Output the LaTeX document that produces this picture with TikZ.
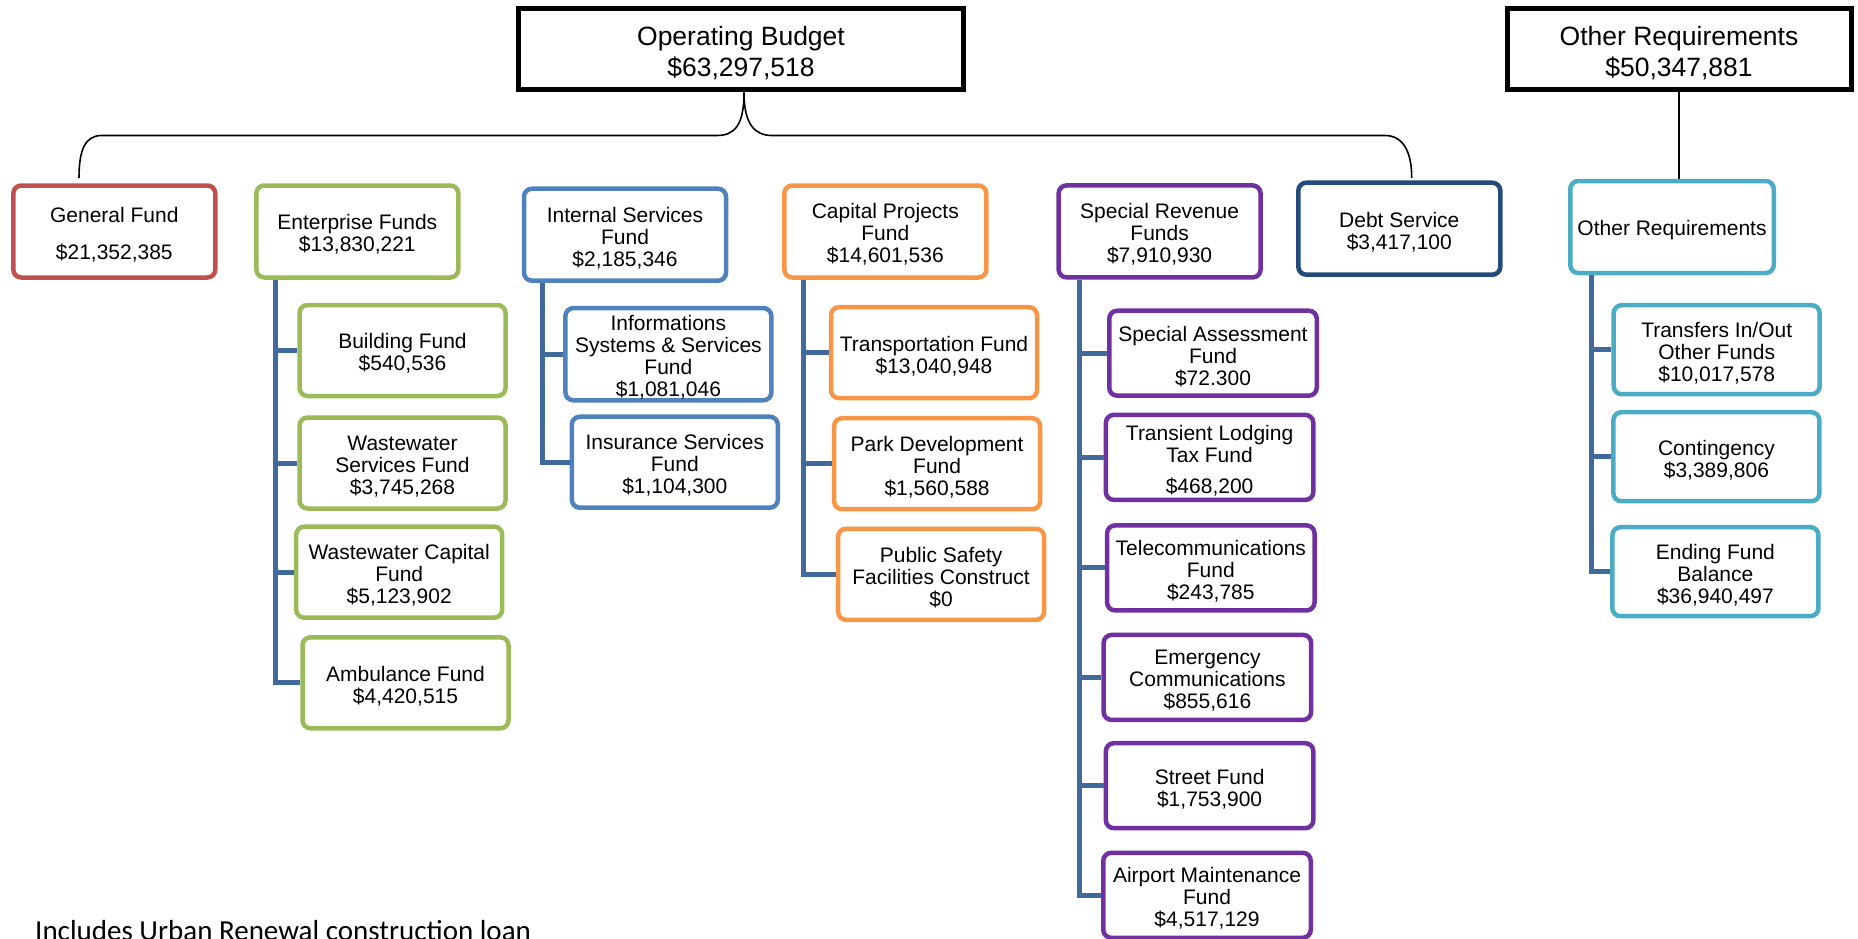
\documentclass[tikz,border=0pt]{standalone}
\usepackage{fontspec}
\setmainfont{Liberation Sans}
\newfontfamily\notefont{Carlito}
\definecolor{fundred}{HTML}{C0504D}
\definecolor{fundgreen}{HTML}{9BBB59}
\definecolor{fundblue}{HTML}{4F81BD}
\definecolor{fundorange}{HTML}{F79646}
\definecolor{fundpurple}{HTML}{7030A0}
\definecolor{funddebt}{HTML}{24497B}
\definecolor{fundcyan}{HTML}{4BACC6}
\definecolor{spineblue}{HTML}{41699C}
% pushes the first line a little down, as the original does
\newcommand{\lowtop}{\rule{0pt}{21.5pt}}
\newcommand{\lowhead}{\rule{0pt}{26.5pt}}

\begin{document}
\begin{tikzpicture}[x=1pt,y=-1pt,
  headbox/.style={draw=black,line width=5pt,minimum width=445pt,minimum height=81pt,
    align=center,font=\fontsize{26.5}{31}\selectfont},
  fundbox/.style={draw,line width=4.5pt,rounded corners=8pt,minimum width=202pt,
    minimum height=92pt,inner sep=1pt,align=center,font=\fontsize{21}{22}\selectfont},
  subbox/.style={fundbox,minimum width=206pt,minimum height=91pt},
  revbox/.style={fundbox,minimum width=207.5pt,minimum height=85pt},
  spine/.style={draw=spineblue,line width=5pt},
  brace/.style={draw=black,line width=1.6pt}]
\useasboundingbox (0,0) rectangle (1858,939);
%\draw[thin,gray!40] (0,0) grid[step=100] (1858,939);

% top boxes
\node[headbox] (ob) at (741,49.5) {\lowhead Operating Budget\\\$63,297,518};
\node[headbox,minimum width=344pt] (otr) at (1679,49.5) {\lowhead Other Requirements\\\$50,347,881};

% first row
\node[fundbox,draw=fundred] (gen) at (114.3,231.5) {\lowtop General Fund\\[15pt]\$21,352,385};
\node[fundbox,draw=fundgreen] (ent) at (357.3,231.5) {\lowtop Enterprise Funds\\\$13,830,221};
\node[fundbox,draw=fundblue] (isf) at (625,234.7) {\lowtop Internal Services\\Fund\\\$2,185,346};
\node[fundbox,draw=fundorange] (cap) at (885.3,231.5) {\lowtop Capital Projects\\Fund\\\$14,601,536};
\node[fundbox,draw=fundpurple] (srf) at (1159.6,231.4) {\lowtop Special Revenue\\Funds\\\$7,910,930};
\node[fundbox,draw=funddebt] (debt) at (1399.3,228.7) {\lowtop Debt Service\\\$3,417,100};
\node[fundbox,draw=fundcyan,minimum width=203.5pt] (oreq) at (1672,227) {\lowtop Other Requirements};

\coordinate (brL) at (79,178);
\coordinate (brR) at (1411.7,178);
\draw[brace] ([xshift=3pt]ob.south) .. controls +(0,32) and (735,135.5) .. (717,135.5)
  -- (101.7,135.5) .. controls (85,135.5) and (79,150) .. (brL);
\draw[brace] ([xshift=3pt]ob.south) .. controls +(0,32) and (755,135.5) .. (772,135.5)
  -- (1385,135.5) .. controls (1402,135.5) and (1411.7,150) .. (brR);
\draw[brace] (otr.south) -- (otr.south |- oreq.north);

% enterprise funds
\node[subbox,draw=fundgreen] (bld) at (402.5,350.5) {\lowtop Building Fund\\\$540,536};
\node[subbox,draw=fundgreen] (wws) at (402.5,463) {\lowtop Wastewater\\Services Fund\\\$3,745,268};
\node[subbox,draw=fundgreen] (wwc) at (399.2,572.2) {\lowtop Wastewater Capital\\Fund\\\$5,123,902};
\node[subbox,draw=fundgreen] (amb) at (405.5,682.8) {\lowtop Ambulance Fund\\\$4,420,515};

% internal services
\node[subbox,draw=fundblue] (iss) at (668.4,354.2) {\lowtop Informations\\Systems \& Services\\Fund\\\$1,081,046};
\node[subbox,draw=fundblue] (ins) at (674.8,462.2) {\lowtop Insurance Services\\Fund\\\$1,104,300};

% capital projects
\node[subbox,draw=fundorange] (trn) at (934,352.7) {\lowtop Transportation Fund\\\$13,040,948};
\node[subbox,draw=fundorange] (prk) at (937.1,463.7) {\lowtop Park Development\\Fund\\\$1,560,588};
\node[subbox,draw=fundorange] (pub) at (941.1,574.3) {\lowtop Public Safety\\Facilities Construct\\\$0};

% special revenue
\node[revbox,draw=fundpurple] (sas) at (1213,353.2) {\lowtop Special Assessment\\Fund\\\$72.300};
\node[revbox,draw=fundpurple] (tlt) at (1209.6,457.4) {\lowtop Transient Lodging\\Tax Fund\\[9pt]\$468,200};
\node[revbox,draw=fundpurple] (tel) at (1210.8,567.9) {\lowtop Telecommunications\\Fund\\\$243,785};
\node[revbox,draw=fundpurple] (emc) at (1207.4,677.4) {\lowtop Emergency\\Communications\\\$855,616};
\node[revbox,draw=fundpurple] (str) at (1209.6,785.7) {\lowtop Street Fund\\\$1,753,900};
\node[revbox,draw=fundpurple] (air) at (1207,895.3) {\lowtop Airport Maintenance\\Fund\\\$4,517,129};

% other requirements
\node[subbox,draw=fundcyan,minimum height=89pt] (tio) at (1716.7,349.7) {\lowtop Transfers In/Out\\Other Funds\\\$10,017,578};
\node[subbox,draw=fundcyan,minimum height=89pt] (con) at (1716.4,456.7) {\lowtop Contingency\\\$3,389,806};
\node[subbox,draw=fundcyan,minimum height=89pt] (efb) at (1715.4,571.7) {\lowtop Ending Fund\\Balance\\\$36,940,497};

\foreach \c in {bld,wws,wwc,amb} \draw[spine] ([xshift=21.5pt]ent.south west) |- (\c.west);
\foreach \c in {iss,ins} \draw[spine] ([xshift=20.5pt]isf.south west) |- (\c.west);
\foreach \c in {trn,prk,pub} \draw[spine] ([xshift=21.5pt]cap.south west) |- (\c.west);
\foreach \c in {sas,tlt,tel,emc,str,air} \draw[spine] ([xshift=23pt]srf.south west) |- (\c.west);
\foreach \c in {tio,con,efb} \draw[spine] ([xshift=23pt]oreq.south west) |- (\c.west);

\node[anchor=base west,inner sep=0pt,font=\notefont\fontsize{29}{33}\selectfont] (note) at (35,940) {Includes Urban Renewal construction loan};
\end{tikzpicture}
\end{document}
